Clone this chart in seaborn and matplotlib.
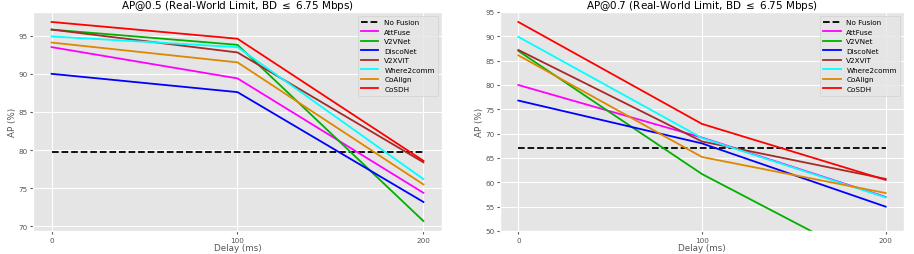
import pandas as pd
import seaborn as sns
import matplotlib
matplotlib.use('Agg')
import matplotlib.pyplot as plt

delays = [0, 100, 200]
methods = ['AttFuse', 'V2VNet', 'DiscoNet', 'V2XViT', 'Where2comm', 'CoAlign', 'CoSDH']
colores = ['magenta', '#00b000', 'blue', '#a52a2a', 'cyan', '#dd8800', 'red']

# AP@0.5
ap50_nofusion = 79.7
ap50_attfuse = [93.5, 89.4, 74.4]
ap50_v2vnet = [95.8, 93.8, 70.7]
ap50_disconet = [90.0, 87.6, 73.2]
ap50_v2xvit = [95.8, 92.8, 78.4]
ap50_where2comm = [94.9, 93.5, 76.2]
ap50_coalign = [94.1, 91.5, 75.5]
ap50_cosdh = [96.8, 94.6, 78.6]

# AP@0.7
ap70_nofusion = 67.1
ap70_attfuse = [80.0, 69.2, 57.0]
ap70_v2vnet = [87.0, 61.7, 42.0]
ap70_disconet = [76.8, 68.0, 55.0]
ap70_v2xvit = [87.2, 68.4, 60.7]
ap70_where2comm = [89.9, 69.1, 56.9]
ap70_coalign = [86.1, 65.2, 57.8]
ap70_cosdh = [92.95, 72.0, 60.5]

ap50 = [ap50_attfuse, ap50_v2vnet, ap50_disconet, ap50_v2xvit, ap50_where2comm, ap50_coalign, ap50_cosdh]
ap70 = [ap70_attfuse, ap70_v2vnet, ap70_disconet, ap70_v2xvit, ap70_where2comm, ap70_coalign, ap70_cosdh]


def to_df(valores):
    filas = []
    for m, vals in zip(methods, valores):
        for d, v in zip(delays, vals):
            filas.append({'Delay': d, 'AP': v, 'Method': m})
    return pd.DataFrame(filas)


plt.style.use('ggplot')
fig = plt.figure(figsize=(9.14, 2.55), dpi=100)
W, H = 914, 255
ax1 = fig.add_axes([33 / W, 1 - 232 / H, 409 / W, 219 / H])
ax2 = fig.add_axes([500 / W, 1 - 232 / H, 404 / W, 219 / H])

for ax, valores, nofusion, titulo in [
    (ax1, ap50, ap50_nofusion, 'AP@0.5 (Real-World Limit, BD $\\leq$ 6.75 Mbps)'),
    (ax2, ap70, ap70_nofusion, 'AP@0.7 (Real-World Limit, BD $\\leq$ 6.75 Mbps)'),
]:
    nf = pd.DataFrame({'Delay': delays, 'AP': [nofusion] * len(delays)})
    sns.lineplot(data=nf, x='Delay', y='AP', ax=ax, color='black', linestyle='--',
                 linewidth=1.3, label='No Fusion')
    df = to_df(valores)
    sns.lineplot(data=df, x='Delay', y='AP', hue='Method', palette=colores,
                 hue_order=methods, ax=ax, linewidth=1.3)
    ax.set_title(titulo, fontsize=7.5, pad=2)
    ax.set_xlabel('Delay (ms)', fontsize=6.3, labelpad=0)
    ax.set_ylabel('AP (%)', fontsize=6.3, labelpad=1)
    ax.set_xticks([0, 100, 200])
    ax.tick_params(labelsize=5.2, pad=2, length=2)
    leg = ax.legend(loc='upper right', fontsize=5.2, handlelength=2.4,
                    labelspacing=0.48, borderpad=0.5, framealpha=0.8)
    for h in leg.get_lines():
        h.set_linewidth(1.3)

ax2.set_ylim(50, 95)

plt.savefig('out.png', dpi=100)
